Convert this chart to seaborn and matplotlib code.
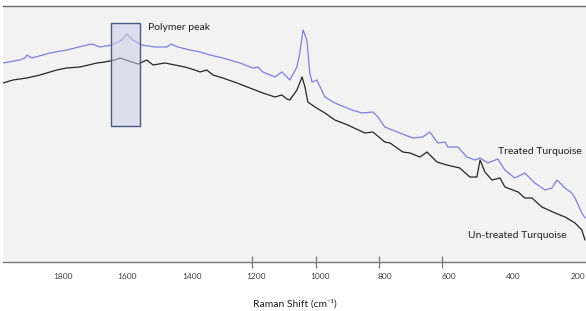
import matplotlib
matplotlib.use("Agg")
import matplotlib.pyplot as plt
import seaborn as sns
import pandas as pd
from matplotlib.patches import Rectangle

# Raman shift (cm-1) and intensity (arbitrary units)
treated_shift = [1986, 1934, 1918, 1912, 1897, 1840, 1788, 1725, 1710, 1685, 1648, 1617,
                 1601, 1583, 1555, 1514, 1477, 1464, 1443, 1405, 1374, 1343, 1303, 1250,
                 1210, 1194, 1179, 1141, 1120, 1110, 1095, 1073, 1064, 1054, 1042, 1033,
                 1026, 1011, 986, 955, 902, 871, 837, 821, 800, 753, 713, 682, 660, 635,
                 613, 604, 573, 545, 520, 504, 480, 449, 427, 396, 365, 334, 302, 281,
                 265, 240, 219, 209, 188, 178]
treated_int = [199, 202, 204, 207, 204, 209, 212, 217, 218, 215, 217, 222,
               228, 222, 217, 215, 215, 218, 215, 212, 210, 207, 204, 199,
               194, 195, 190, 185, 190, 187, 182, 195, 209, 232, 222, 189,
               180, 182, 165, 159, 152, 149, 150, 145, 135, 129, 124, 125, 130, 119,
               120, 115, 115, 105, 102, 104, 99, 103, 92, 84, 89, 79, 72, 74,
               82, 74, 69, 64, 49, 44]

untreated_shift = [1986, 1955, 1912, 1871, 1819, 1788, 1747, 1694, 1670, 1638, 1623, 1586,
                   1567, 1539, 1520, 1483, 1452, 1421, 1390, 1374, 1353, 1334, 1303, 1259,
                   1219, 1179, 1141, 1120, 1104, 1095, 1073, 1057, 1048, 1039, 1017, 986,
                   955, 915, 902, 862, 837, 800, 784, 744, 722, 691, 669, 638, 607, 567,
                   536, 514, 504, 489, 467, 442, 427, 386, 365, 343, 312, 271, 240, 209,
                   188, 178]
untreated_int = [179, 182, 184, 187, 192, 194, 195, 199, 200, 202, 204, 200,
                 198, 202, 197, 199, 197, 195, 192, 190, 192, 187, 184, 179,
                 174, 169, 165, 167, 163, 162, 172, 185, 175, 160, 155, 149,
                 142, 137, 135, 129, 130, 120, 119, 110, 109, 105, 110, 100, 97, 94,
                 85, 85, 102, 90, 82, 84, 75, 70, 64, 64, 55, 49, 45, 39,
                 32, 22]

x_ticks = [1800, 1600, 1400, 1200, 1000, 800, 600, 400, 200]
tick_marks = [1213, 1015, 818, 623]
box_x = [1649, 1560]
box_y = [136, 239]

df = pd.concat([
    pd.DataFrame({"shift": treated_shift, "intensity": treated_int, "sample": "Treated Turquoise"}),
    pd.DataFrame({"shift": untreated_shift, "intensity": untreated_int, "sample": "Un-treated Turquoise"}),
])

sns.set_theme(style="white")
plt.rcParams["font.family"] = ["Lato", "DejaVu Sans"]

fig = plt.figure(figsize=(5.86, 3.11), dpi=100)
ax = fig.add_axes([3 / 586, 49 / 311, 583 / 586, 256 / 311])
ax.set_facecolor("#f2f2f2")

sns.lineplot(data=df, x="shift", y="intensity", hue="sample", sort=False,
             palette={"Treated Turquoise": "#7f7fdc", "Un-treated Turquoise": "#262626"},
             linewidth=0.9, legend=False, ax=ax, estimator=None)

ax.add_patch(Rectangle((box_x[0], box_y[0]), box_x[1] - box_x[0], box_y[1] - box_y[0],
                       facecolor="#c9d1e6", edgecolor="none", alpha=0.55, zorder=3))
ax.add_patch(Rectangle((box_x[0], box_y[0]), box_x[1] - box_x[0], box_y[1] - box_y[0],
                       facecolor="none", edgecolor="#4a5a85", linewidth=1.0, zorder=4))

ax.set_xlim(1986, 175)
ax.set_ylim(0, 256)

ax.set_xticks(x_ticks)
ax.set_xticklabels([str(t) for t in x_ticks])
ax.set_xticks(tick_marks, minor=True)
ax.tick_params(axis="x", which="major", length=0, labelsize=6, labelcolor="#404040", pad=8)
ax.tick_params(axis="x", which="minor", length=8, direction="inout", width=0.8, color="#707070", bottom=True)
ax.set_yticks([])
ax.set_xlabel("Raman Shift (cm\u207b\u00b9)", fontsize=7.5, color="#202020", labelpad=14)
ax.set_ylabel("")

for side in ["left", "right"]:
    ax.spines[side].set_visible(False)
ax.spines["top"].set_color("#6a6a6a")
ax.spines["top"].set_linewidth(1.0)
ax.spines["bottom"].set_color("#7a7a7a")
ax.spines["bottom"].set_linewidth(1.0)

ax.text(1536, 235, "Polymer peak", fontsize=7.5, color="#202020", va="center", ha="left")
ax.text(449, 110, "Treated Turquoise", fontsize=7.5, color="#202020", va="center", ha="left")
ax.text(542, 26, "Un-treated Turquoise", fontsize=7.5, color="#202020", va="center", ha="left")

fig.savefig("out.png", dpi=100, facecolor="white")
